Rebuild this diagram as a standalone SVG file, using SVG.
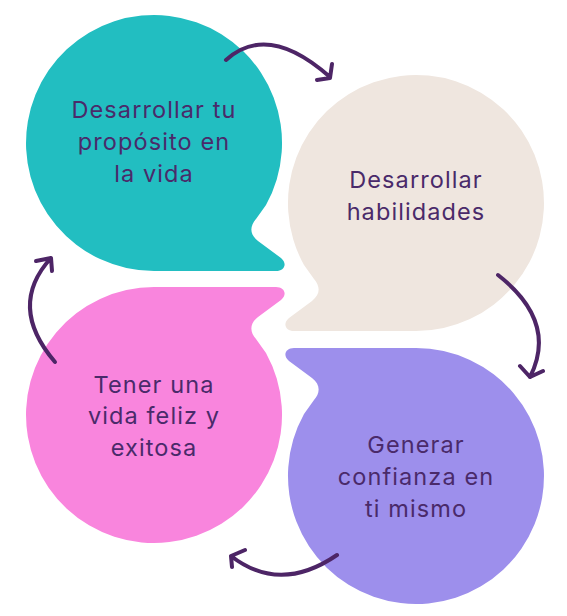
<svg xmlns="http://www.w3.org/2000/svg" width="567" height="616" viewBox="0 0 567 616">
  <defs>
    <path id="bubble" d="M112,62 A128,128 0 1 0 0,128 L122,128 C130,128 134,121 127,115 L104,98 C95,91 96,83 102,76 Z"/>
  </defs>
  <style>
    .lbl { font-family: Inter, "Open Sans", "Liberation Sans", sans-serif; font-size: 23.5px; fill: #4A2A6A; text-anchor: middle; letter-spacing: 1.1px; }
    .arr { fill: none; stroke: #4D2566; stroke-width: 4; stroke-linecap: round; stroke-linejoin: round; }
  </style>
  <rect width="567" height="616" fill="#FFFFFF"/>
  <g id="node-proposito">
    <use href="#bubble" transform="translate(154,143)" fill="#22BEC1"/>
    <text class="lbl"><tspan x="154" y="118">Desarrollar tu</tspan><tspan x="154" y="150">propósito en</tspan><tspan x="154" y="182">la vida</tspan></text>
  </g>
  <g id="node-habilidades">
    <use href="#bubble" transform="translate(416,203) scale(-1,1)" fill="#EFE6DF"/>
    <text class="lbl"><tspan x="416" y="188">Desarrollar</tspan><tspan x="416" y="220">habilidades</tspan></text>
  </g>
  <g id="node-confianza">
    <use href="#bubble" transform="translate(416,476) scale(-1,-1)" fill="#9D8FEC"/>
    <text class="lbl"><tspan x="416" y="453">Generar</tspan><tspan x="416" y="485">confianza en</tspan><tspan x="416" y="517">ti mismo</tspan></text>
  </g>
  <g id="node-vida-feliz">
    <use href="#bubble" transform="translate(154,415) scale(1,-1)" fill="#F985DD"/>
    <text class="lbl"><tspan x="154" y="393">Tener una</tspan><tspan x="154" y="424">vida feliz y</tspan><tspan x="154" y="456">exitosa</tspan></text>
  </g>
  <g id="connectors">
    <path class="arr" d="M226,60 Q268,22 330,77 M332,64 L330,78 L317,80"/>
    <path class="arr" d="M498,275 Q558,322 530,377 M520,366 L530,377 L543,371"/>
    <path class="arr" d="M337,555 Q280,594 231,556 M245,550 L231,556 L232,567"/>
    <path class="arr" d="M55,362 Q7,306 51,258 M36,261 L51,258 L52,271"/>
  </g>
</svg>
